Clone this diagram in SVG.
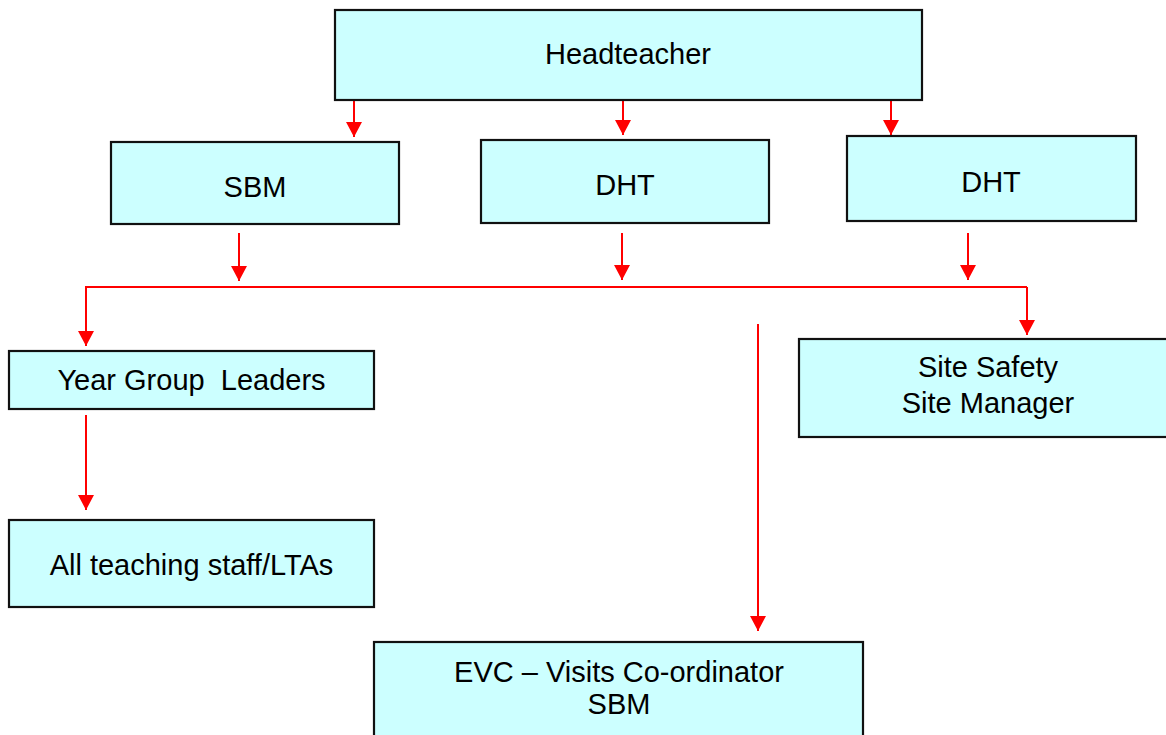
<svg xmlns="http://www.w3.org/2000/svg" width="1166" height="735" viewBox="0 0 1166 735">
<style>
.box{fill:#ccffff;stroke:#111;stroke-width:2.2}
.lbl{font-family:"Liberation Sans",Arial,sans-serif;font-size:29px;fill:#000;text-anchor:middle;white-space:pre}
.con{fill:none;stroke:#ff0000;stroke-width:2}
</style>
<defs>
<marker id="ah" markerUnits="userSpaceOnUse" markerWidth="15" markerHeight="16" viewBox="0 0 15 16" refX="15" refY="8" orient="auto">
<path d="M0,0 L15,8 L0,16 z" fill="#ff0000"/>
</marker>
</defs>
<rect width="1166" height="735" fill="#fff"/>
<g id="connectors">
<path class="con" d="M354,100 V137" marker-end="url(#ah)"/>
<path class="con" d="M623,100 V135" marker-end="url(#ah)"/>
<path class="con" d="M891,100 V135" marker-end="url(#ah)"/>
<path class="con" d="M239,233 V281" marker-end="url(#ah)"/>
<path class="con" d="M622,233 V280" marker-end="url(#ah)"/>
<path class="con" d="M968,233 V280" marker-end="url(#ah)"/>
<path class="con" d="M1027,287 H86 V346" marker-end="url(#ah)"/>
<path class="con" d="M1027,287 V335" marker-end="url(#ah)"/>
<path class="con" d="M758,324 V631" marker-end="url(#ah)"/>
<path class="con" d="M86,415 V510" marker-end="url(#ah)"/>
</g>
<g id="headteacher">
<rect class="box" x="335" y="10" width="587" height="90"/>
<text class="lbl" x="628" y="64">Headteacher</text>
</g>
<g id="sbm">
<rect class="box" x="111" y="142" width="288" height="82"/>
<text class="lbl" x="255" y="197">SBM</text>
</g>
<g id="dht1">
<rect class="box" x="481" y="140" width="288" height="83"/>
<text class="lbl" x="625" y="195">DHT</text>
</g>
<g id="dht2">
<rect class="box" x="847" y="136" width="289" height="85"/>
<text class="lbl" x="991" y="192">DHT</text>
</g>
<g id="ygl">
<rect class="box" x="9" y="351" width="365" height="58"/>
<text class="lbl" x="191.5" y="390" xml:space="preserve">Year Group  Leaders</text>
</g>
<g id="site">
<rect class="box" x="799" y="339" width="372" height="98"/>
<text class="lbl" x="988" y="377">Site Safety</text>
<text class="lbl" x="988" y="413">Site Manager</text>
</g>
<g id="staff">
<rect class="box" x="9" y="520" width="365" height="87"/>
<text class="lbl" x="191.5" y="575">All teaching staff/LTAs</text>
</g>
<g id="evc">
<rect class="box" x="374" y="642" width="489" height="110"/>
<text class="lbl" x="619" y="682">EVC – Visits Co-ordinator</text>
<text class="lbl" x="619" y="714">SBM</text>
</g>
</svg>
